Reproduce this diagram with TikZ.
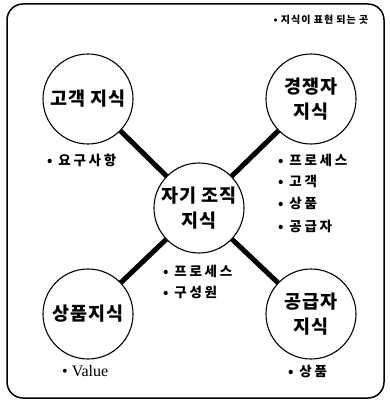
\documentclass[tikz,border=0pt]{standalone}
\usepackage{fontspec}
\newfontfamily\kr{Noto Sans CJK KR}
\newfontfamily\krs[LetterSpace=20]{Noto Sans CJK KR}
\newfontfamily\krn[LetterSpace=10]{Noto Sans CJK KR}
\newfontfamily\krc[LetterSpace=6]{Noto Sans CJK KR}
\newfontfamily\lat{Liberation Serif}
\begin{document}
\begin{tikzpicture}[x=1pt,y=-1pt,
  bubble/.style={circle,draw,line width=1.1pt,fill=white,minimum size=90pt,inner sep=0pt,
     font=\krc\bfseries\fontsize{18.5}{25}\selectfont,align=center},
  link/.style={line width=5pt},
  item/.style={anchor=west,inner sep=0pt,font=\krs\bfseries\fontsize{13.5}{15}\selectfont},
  note/.style={inner sep=0pt,font=\krn\bfseries\fontsize{10}{12}\selectfont}]
\useasboundingbox (0,0) rectangle (389,403);
% frame
\draw[line width=1.5pt,rounded corners=16pt] (7,4) rectangle (384,398);
% nodes
\node[bubble] (ctr) at (199,208) {자기 조직\\지식};
\node[bubble] (cust) at (88,99) {고객 지식};
\node[bubble] (comp) at (311,99) {경쟁자\\지식};
\node[bubble] (prod) at (88,314) {상품지식};
\node[bubble] (supp) at (311,314) {공급자\\지식};
\draw[link] (ctr) -- (cust);
\draw[link] (ctr) -- (comp);
\draw[link] (ctr) -- (prod);
\draw[link] (ctr) -- (supp);
% labels
\node[note] (nt) at (321,20) {• 지식이 표현 되는 곳};
\node[item] (l1) at (47,160) {• 요구사항};
\node[item] (r1) at (278,160) {• 프로세스};
\node[item] (r2) at (278,181) {• 고객};
\node[item] (r3) at (278,203) {• 상품};
\node[item] (r4) at (278,226) {• 공급자};
\node[item] (m1) at (163,271) {• 프로세스};
\node[item] (m2) at (163,292) {• 구성원};
\node[item,font=\lat\fontsize{16}{18}\selectfont] (v1) at (62,371) {• Value};
\node[item] (s1) at (288,371) {• 상품};
\end{tikzpicture}
\end{document}
